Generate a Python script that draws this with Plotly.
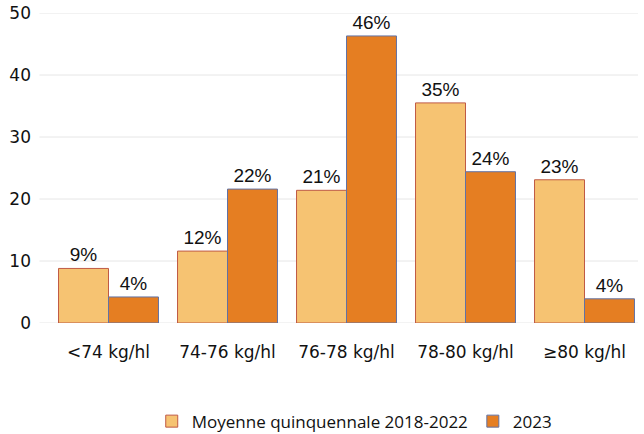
import plotly.graph_objects as go

categories = ["<74 kg/hl", "74-76 kg/hl", "76-78 kg/hl", "78-80 kg/hl", "≥80 kg/hl"]
moyenne = [8.8, 11.6, 21.4, 35.5, 23.1]
moyenne_labels = ["9%", "12%", "21%", "35%", "23%"]
y2023 = [4.2, 21.6, 46.3, 24.4, 3.9]
y2023_labels = ["4%", "22%", "46%", "24%", "4%"]
y_ticks = [0, 10, 20, 30, 40, 50]

font = "DejaVu Sans"
label_font = "Liberation Sans"
legend_font = "Open Sans"

fig = go.Figure()
fig.add_trace(go.Bar(
    x=categories, y=moyenne, name="Moyenne quinquennale 2018-2022",
    text=moyenne_labels, textposition="outside", cliponaxis=False,
    marker=dict(color="#F6C372", line=dict(color="#BF5A45", width=1)),
    textfont=dict(size=19, color="#111111", family=label_font),
))
fig.add_trace(go.Bar(
    x=categories, y=y2023, name="2023",
    text=y2023_labels, textposition="outside", cliponaxis=False,
    marker=dict(color="#E57E22", line=dict(color="#6272A4", width=1)),
    textfont=dict(size=19, color="#111111", family=label_font),
))

for t in y_ticks:
    fig.add_shape(type="line", xref="paper", yref="y", x0=-0.016, x1=0.99, y0=t, y1=t,
                  line=dict(color="#E6E6E6", width=1), layer="below")

fig.update_layout(
    width=644, height=434,
    margin=dict(l=49, r=0, t=13, b=111, autoexpand=False),
    paper_bgcolor="white", plot_bgcolor="white",
    barmode="group", bargap=0.16, bargroupgap=0,
    font=dict(family=font, size=16, color="#111111"),
    showlegend=True,
    legend=dict(orientation="h", x=0.513, xanchor="center", y=-0.318, yanchor="middle",
                font=dict(size=17, family=legend_font, color="#111111")),
)
fig.update_yaxes(range=[0, 50], tickvals=y_ticks, showgrid=False, zeroline=False,
                 tickfont=dict(size=17, family=font), ticks="", ticklabelstandoff=17)
fig.update_xaxes(tickfont=dict(size=17, family=font), ticks="", showline=False,
                 ticklabelstandoff=17)

fig.write_html("out.html", config={"displayModeBar": False},
               post_script="document.body.style.margin='0';")
